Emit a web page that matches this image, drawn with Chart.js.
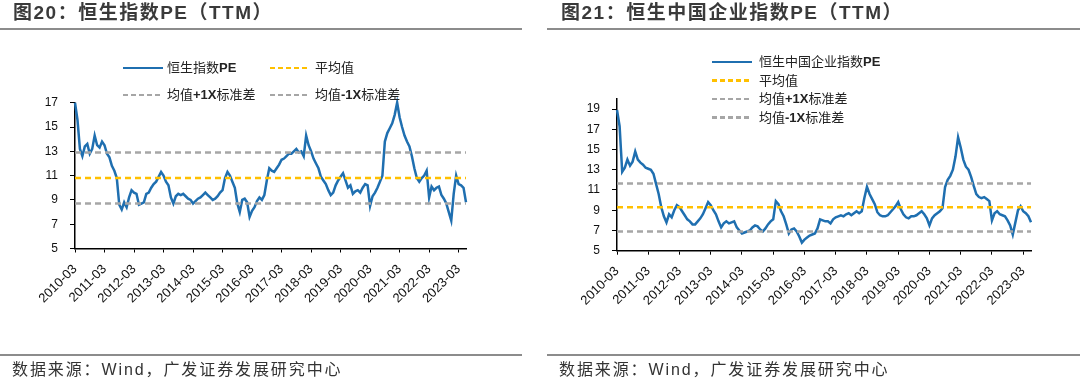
<!DOCTYPE html>
<html>
<head>
<meta charset="utf-8">
<script src="https://cdn.jsdelivr.net/npm/chart.js@4.4.1/dist/chart.umd.min.js"></script>
<style>
  html, body { margin: 0; padding: 0; background: #fff; }
  #wrap { position: relative; width: 1080px; height: 383px; overflow: hidden; background: #fff;
          font-family: "Liberation Sans", Arial, "Noto Sans CJK SC", sans-serif; }
  canvas { position: absolute; top: 0; }
  .title { position: absolute; top: 2px; font-size: 19px; font-weight: bold; color: #3a3a3a;
           letter-spacing: 1.5px; white-space: nowrap; line-height: 22px;
           font-family: "Liberation Sans", Arial, "Noto Sans CJK SC", sans-serif; }
  .rule { position: absolute; height: 2px; background: #8c8c8c; }
  .foot { position: absolute; top: 360px; font-size: 16px; color: #333; letter-spacing: 1.9px;
          white-space: nowrap; line-height: 20px;
          font-family: "Liberation Sans", Arial, "Noto Sans CJK SC", sans-serif; }
  .lg { position: absolute; font-size: 13px; color: #222; white-space: nowrap; line-height: 16px; height: 16px;
        font-family: "Liberation Sans", Arial, "Noto Sans CJK SC", sans-serif; }
  .lg b { font-weight: bold; }
  .sw { position: absolute; height: 2.5px; width: 40px; }
</style>
</head>
<body>
<div id="wrap">
  <canvas id="c1" width="540" height="383" style="left:0;width:540px;height:383px"></canvas>
  <canvas id="c2" width="540" height="383" style="left:540px;width:540px;height:383px"></canvas>

  <div class="title" style="left:13px">图20：恒生指数PE（TTM）</div>
  <div class="rule" style="left:0;top:28px;width:522px"></div>
  <div class="title" style="left:561px">图21：恒生中国企业指数PE（TTM）</div>
  <div class="rule" style="left:547px;top:28px;width:533px"></div>

  <div id="legend1"></div>
  <div id="legend2"></div>

  <div class="rule" style="left:0;top:354px;width:522px;height:1.5px"></div>
  <div class="foot" style="left:12px">数据来源：Wind，广发证券发展研究中心</div>
  <div class="rule" style="left:547px;top:354px;width:533px;height:1.5px"></div>
  <div class="foot" style="left:559px">数据来源：Wind，广发证券发展研究中心</div>
</div>
<script>
// ---------- categories ----------
const months = [];
for (let y = 2010; y <= 2023; y++) {
  for (let m = 1; m <= 12; m++) {
    if (y === 2010 && m < 3) continue;
    if (y === 2023 && m > 6) continue;
    months.push(y + '-' + String(m).padStart(2, '0'));
  }
}
const xTickLabels = ['2010-03','2011-03','2012-03','2013-03','2014-03','2015-03','2016-03',
                     '2017-03','2018-03','2019-03','2020-03','2021-03','2022-03','2023-03'];
const yTicksHSI = [5, 7, 9, 11, 13, 15, 17];
const yTicksHSCEI = [5, 7, 9, 11, 13, 15, 17, 19];

// ---------- series (monthly) ----------
const hsiPE = [
  17.0,15.6,13.2,12.6,13.4,13.6,12.8,13.2,14.3,13.5,
  13.3,13.8,13.5,12.8,12.5,11.8,11.4,10.8,8.6,8.2,
  8.8,8.4,9.2,9.8,9.6,9.5,8.6,8.7,8.8,9.5,
  9.6,10.0,10.3,10.5,10.9,11.3,11.0,10.5,10.2,9.2,
  8.7,9.3,9.5,9.4,9.5,9.3,9.1,9.0,8.7,8.9,
  9.1,9.2,9.4,9.6,9.4,9.2,9.0,9.1,9.3,9.6,
  9.8,10.8,11.3,11.0,10.5,10.0,8.7,8.0,9.0,9.1,
  8.8,7.6,8.1,8.4,8.9,9.2,9.0,9.4,10.6,11.6,
  11.4,11.3,11.6,11.9,12.3,12.4,12.6,12.8,12.8,13.0,
  13.2,12.9,13.0,12.6,14.3,13.5,13.0,12.4,12.0,11.6,
  10.9,10.6,10.3,9.8,9.4,9.6,10.2,10.6,10.9,11.2,
  10.6,10.0,10.2,9.5,9.7,9.8,9.6,10.0,10.3,10.2,
  8.5,9.3,9.6,10.0,10.5,11.0,13.8,14.5,14.9,15.3,
  16.0,17.0,15.8,15.0,14.3,13.8,13.4,12.6,11.6,10.8,
  10.5,10.8,11.0,11.4,9.2,10.1,9.8,10.0,10.1,9.4,
  9.1,8.7,8.0,7.3,9.5,11.0,10.3,10.2,10.0,8.8
];
const hsiMean = 10.8, hsiUpper = 12.9, hsiLower = 8.7;

const hsceiPE = [
  18.9,17.3,12.8,13.2,14.0,13.4,13.8,14.8,14.0,13.7,
  13.5,13.2,13.1,13.0,12.6,11.6,10.6,9.3,8.4,7.8,
  8.6,8.3,9.0,9.5,9.3,8.9,8.5,8.1,7.9,7.6,
  7.6,7.9,8.2,8.6,9.2,9.8,9.5,9.0,8.6,7.9,
  7.3,7.7,7.9,7.7,7.8,7.9,7.3,7.0,6.7,6.8,
  6.9,7.0,7.3,7.5,7.4,7.1,6.9,7.2,7.6,7.9,
  8.1,9.9,9.6,8.9,8.4,7.6,6.7,7.1,7.2,6.9,
  6.4,5.8,6.1,6.3,6.5,6.6,6.7,7.2,8.1,8.0,
  7.9,7.9,7.7,8.1,8.3,8.4,8.5,8.4,8.6,8.7,
  8.5,8.7,8.9,8.7,8.9,10.2,11.3,10.6,10.1,9.6,
  8.8,8.5,8.4,8.4,8.5,8.8,9.1,9.4,9.8,9.1,
  8.6,8.3,8.2,8.4,8.4,8.5,8.7,8.9,8.6,8.2,
  7.5,8.2,8.5,8.7,8.9,9.2,11.3,12.0,12.4,13.0,
  14.3,16.2,15.2,14.0,13.3,13.0,12.3,11.4,10.6,10.3,
  10.2,10.3,10.1,9.9,8.0,8.7,8.9,8.6,8.5,8.4,
  8.0,7.5,6.6,7.8,9.0,9.4,8.9,8.7,8.4,7.8
];
const hsceiMean = 9.3, hsceiUpper = 11.65, hsceiLower = 6.9;

// ---------- styles ----------
const BLUE = '#1f6fb0', GOLD = '#ffc000', GREY = '#a6a6a6';
const DASH = [6, 4];

// ---------- legends (HTML text) ----------
function swatch(left, top, color, dashed) {
  const bg = dashed
    ? 'repeating-linear-gradient(to right,' + color + ' 0 5px, transparent 5px 8px)'
    : color;
  return '<div class="sw" style="left:' + left + 'px;top:' + (top - 1.25) + 'px;background:' + bg + '"></div>';
}
function item(left, top, html) {
  return '<div class="lg" style="left:' + left + 'px;top:' + (top - 8) + 'px">' + html + '</div>';
}
document.getElementById('legend1').innerHTML =
  swatch(123, 68, BLUE, false) + item(167, 68, '恒生指数<b>PE</b>') +
  swatch(270, 68, GOLD, true) + item(315, 68, '平均值') +
  swatch(123, 95, GREY, true) + item(167, 95, '均值<b>+1X</b>标准差') +
  swatch(270, 95, GREY, true) + item(315, 95, '均值<b>-1X</b>标准差');
document.getElementById('legend2').innerHTML =
  swatch(712, 62, BLUE, false) + item(759, 62, '恒生中国企业指数<b>PE</b>') +
  swatch(712, 80.5, GOLD, true) + item(759, 80.5, '平均值') +
  swatch(712, 99, GREY, true) + item(759, 99, '均值<b>+1X</b>标准差') +
  swatch(712, 117.5, GREY, true) + item(759, 117.5, '均值<b>-1X</b>标准差');

// ---------- chart builder ----------
function makeChart(canvasId, series, mean, upper, lower, yMin, yMax, yTicks, geo) {
  const ctx = document.getElementById(canvasId).getContext('2d');
  return new Chart(ctx, {
    type: 'line',
    data: {
      labels: months,
      datasets: [
        { data: months.map(() => lower), borderColor: GREY, borderWidth: 2.5, borderDash: DASH,
          pointRadius: 0, order: 1 },
        { data: months.map(() => upper), borderColor: GREY, borderWidth: 2.5, borderDash: DASH,
          pointRadius: 0, order: 1 },
        { data: months.map(() => mean), borderColor: GOLD, borderWidth: 2.5, borderDash: DASH,
          pointRadius: 0, order: 1 },
        { data: series, borderColor: BLUE, borderWidth: 2.5, pointRadius: 0, tension: 0,
          clip: false, order: 2 }
      ]
    },
    options: {
      responsive: false,
      animation: false,
      devicePixelRatio: 1,
      layout: { padding: { left: 0, right: geo.padRight, top: geo.padTop, bottom: 0 } },
      plugins: { legend: { display: false }, tooltip: { enabled: false }, title: { display: false } },
      scales: {
        x: {
          type: 'category',
          offset: false,
          afterFit: (s) => { s.height = geo.xHeight; },
          afterBuildTicks: (s) => {
            s.ticks = s.ticks.filter(t => xTickLabels.includes(months[t.value]));
          },
          grid: { display: true, drawOnChartArea: false, drawTicks: true, tickLength: 4,
                  color: '#000', lineWidth: 1 },
          border: { display: true, color: '#000', width: 1.5 },
          ticks: { autoSkip: false, maxRotation: 45, minRotation: 45, padding: 9,
                   color: '#111', font: { family: 'Liberation Sans, Arial', size: 13 } }
        },
        y: {
          min: yMin, max: yMax,
          afterFit: (s) => { s.width = geo.yWidth; },
          afterBuildTicks: (s) => { s.ticks = yTicks.map(v => ({ value: v })); },
          grid: { display: true, drawOnChartArea: false, drawTicks: true, tickLength: 5,
                  color: '#000', lineWidth: 1 },
          border: { display: true, color: '#000', width: 1.5 },
          ticks: { padding: 12, color: '#111', font: { family: 'Liberation Sans, Arial', size: 12 } }
        }
      }
    }
  });
}

makeChart('c1', hsiPE, hsiMean, hsiUpper, hsiLower, 5, 17, yTicksHSI,
  { yWidth: 75, padRight: 74, padTop: 102.7, xHeight: 134.5 });
makeChart('c2', hsceiPE, hsceiMean, hsceiUpper, hsceiLower, 5, 20, yTicksHSCEI,
  { yWidth: 77, padRight: 49, padTop: 98.9, xHeight: 132.3 });
</script>
</body>
</html>
